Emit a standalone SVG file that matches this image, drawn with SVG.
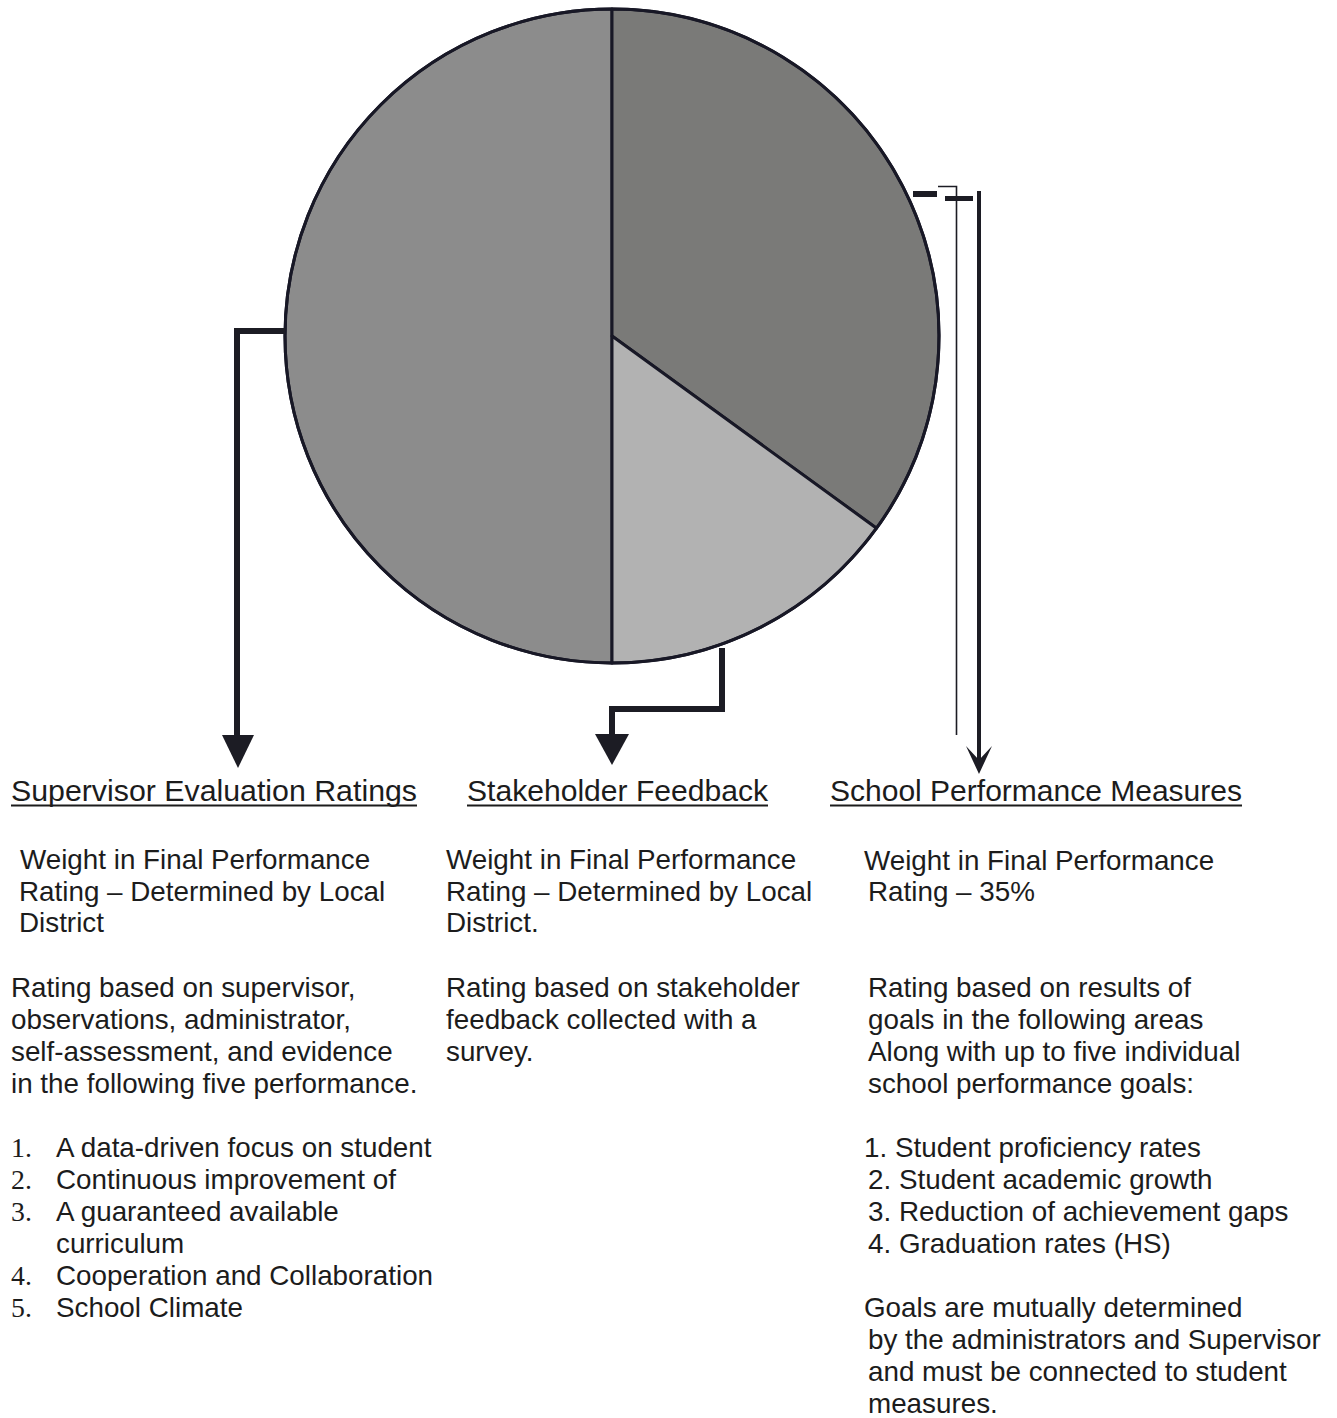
<svg xmlns="http://www.w3.org/2000/svg" width="1337" height="1418" viewBox="0 0 1337 1418">
<style>
.t{font-family:"Liberation Sans",Arial,sans-serif;font-size:27.8px;fill:#1c1c1c}
.h{font-family:"Liberation Sans",Arial,sans-serif;font-size:29.5px;fill:#1c1c1c}
.n{font-family:"Liberation Serif","Times New Roman",serif;font-size:27.8px;fill:#1c1c1c}
.ul{stroke:#1c1c1c;stroke-width:2}
.edge{stroke:#181826;stroke-width:3;stroke-linejoin:round}
.conn{fill:none;stroke:#1c1c24;stroke-width:6;stroke-linejoin:miter}
</style>
<rect width="1337" height="1418" fill="#ffffff"/>
<g id="pie">
  <g id="slice-supervisor"><path d="M612,336 L612,9 A327,327 0 0 0 612,663 Z" fill="#8c8c8c" class="edge"/></g>
  <g id="slice-school"><path d="M612,336 L612,9 A327,327 0 0 1 876.5,528.2 Z" fill="#7a7a78" class="edge"/></g>
  <g id="slice-stakeholder"><path d="M612,336 L876.5,528.2 A327,327 0 0 1 612,663 Z" fill="#b2b2b2" class="edge"/></g>
  <circle cx="612" cy="336" r="327" fill="none" class="edge"/>
</g>
<g id="connectors">
  <polyline class="conn" points="285,331 237,331 237,738"/>
  <path d="M222,735 L254,735 L238,768 Z" fill="#1c1c24"/>
  <polyline class="conn" points="722,648 722,709 612,709 612,738"/>
  <path d="M595,734 L629,734 L612,765 Z" fill="#1c1c24"/>
  <rect x="913" y="191" width="24" height="6" fill="#1c1c24"/>
  <polyline points="938,186.5 956.5,186.5 956.5,735" fill="none" stroke="#1c1c24" stroke-width="1.6"/>
  <rect x="945" y="196" width="28" height="5" fill="#1c1c24"/>
  <line x1="979" y1="191" x2="979" y2="765" stroke="#1c1c24" stroke-width="4"/>
  <path d="M966,746 L979,774 L992,746 L979,760 Z" fill="#1c1c24"/>
</g>
<g id="node-supervisor">
  <text class="h" x="11" y="801" textLength="406" lengthAdjust="spacingAndGlyphs">Supervisor Evaluation Ratings</text>
  <line class="ul" x1="11" y1="805.5" x2="417" y2="805.5"/>
  <text class="t" x="20" y="869">Weight in Final Performance</text>
  <text class="t" x="19" y="901">Rating – Determined by Local</text>
  <text class="t" x="19" y="932">District</text>
  <text class="t" x="11" y="997">Rating based on supervisor,</text>
  <text class="t" x="11" y="1029">observations, administrator,</text>
  <text class="t" x="11" y="1061">self-assessment, and evidence</text>
  <text class="t" x="11" y="1093">in the following five performance.</text>
  <text class="n" x="11" y="1157">1.</text><text class="t" x="56" y="1157">A data-driven focus on student</text>
  <text class="n" x="11" y="1189">2.</text><text class="t" x="56" y="1189">Continuous improvement of</text>
  <text class="n" x="11" y="1221">3.</text><text class="t" x="56" y="1221">A guaranteed available</text>
  <text class="t" x="56" y="1253">curriculum</text>
  <text class="n" x="11" y="1285">4.</text><text class="t" x="56" y="1285">Cooperation and Collaboration</text>
  <text class="n" x="11" y="1317">5.</text><text class="t" x="56" y="1317">School Climate</text>
</g>
<g id="node-stakeholder">
  <text class="h" x="467" y="801" textLength="301" lengthAdjust="spacingAndGlyphs">Stakeholder Feedback</text>
  <line class="ul" x1="467" y1="805.5" x2="768" y2="805.5"/>
  <text class="t" x="446" y="869">Weight in Final Performance</text>
  <text class="t" x="446" y="901">Rating – Determined by Local</text>
  <text class="t" x="446" y="932">District.</text>
  <text class="t" x="446" y="997">Rating based on stakeholder</text>
  <text class="t" x="446" y="1029">feedback collected with a</text>
  <text class="t" x="446" y="1061">survey.</text>
</g>
<g id="node-school">
  <text class="h" x="830" y="801" textLength="412" lengthAdjust="spacingAndGlyphs">School Performance Measures</text>
  <line class="ul" x1="830" y1="805.5" x2="1242" y2="805.5"/>
  <text class="t" x="864" y="870">Weight in Final Performance</text>
  <text class="t" x="868" y="901">Rating – 35%</text>
  <text class="t" x="868" y="997">Rating based on results of</text>
  <text class="t" x="868" y="1029">goals in the following areas</text>
  <text class="t" x="868" y="1061">Along with up to five individual</text>
  <text class="t" x="868" y="1093">school performance goals:</text>
  <text class="t" x="864" y="1157">1. Student proficiency rates</text>
  <text class="t" x="868" y="1189">2. Student academic growth</text>
  <text class="t" x="868" y="1221">3. Reduction of achievement gaps</text>
  <text class="t" x="868" y="1253">4. Graduation rates (HS)</text>
  <text class="t" x="864" y="1317">Goals are mutually determined</text>
  <text class="t" x="868" y="1349">by the administrators and Supervisor</text>
  <text class="t" x="868" y="1381">and must be connected to student</text>
  <text class="t" x="868" y="1413">measures.</text>
</g>
</svg>
